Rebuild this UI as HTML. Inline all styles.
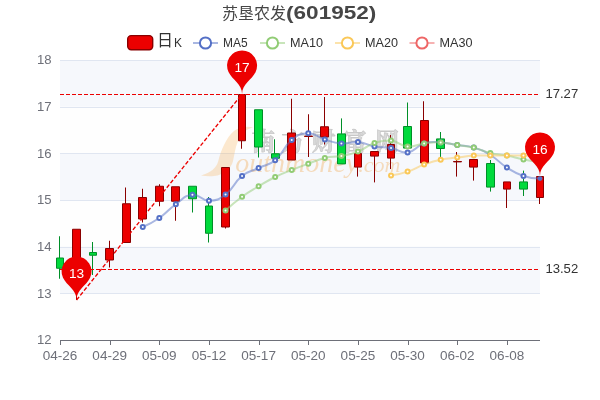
<!DOCTYPE html>
<html lang="zh"><head><meta charset="utf-8"><title>苏垦农发(601952)</title>
<style>
html,body{margin:0;padding:0;background:#fff;}
body{width:600px;height:400px;overflow:hidden;font-family:"Liberation Sans",sans-serif;}
svg{display:block;font-family:"Liberation Sans",sans-serif;will-change:transform;}
.ax{font-size:12.2px;fill:#6e7079;}
.ml{font-size:12.2px;fill:#333;}
.lg{font-size:12.2px;fill:#333;}
.pl{font-size:12.2px;fill:#fff;}
.tt{font-size:18.4px;font-weight:bold;fill:#464646;}
</style></head><body>
<svg width="600" height="400" viewBox="0 0 600 400">
<rect width="600" height="400" fill="#fff"/>

<rect x="60" y="60.00" width="480" height="46.67" fill="rgba(210,219,238,0.2)"/>
<rect x="60" y="106.67" width="480" height="46.67" fill="rgba(250,250,250,0.2)"/>
<rect x="60" y="153.33" width="480" height="46.67" fill="rgba(210,219,238,0.2)"/>
<rect x="60" y="200.00" width="480" height="46.67" fill="rgba(250,250,250,0.2)"/>
<rect x="60" y="246.67" width="480" height="46.67" fill="rgba(210,219,238,0.2)"/>
<rect x="60" y="293.33" width="480" height="46.67" fill="rgba(250,250,250,0.2)"/>
<line x1="60" x2="540" y1="60.5" y2="60.5" stroke="#e0e6f1" stroke-width="1"/>
<line x1="60" x2="540" y1="107.5" y2="107.5" stroke="#e0e6f1" stroke-width="1"/>
<line x1="60" x2="540" y1="153.5" y2="153.5" stroke="#e0e6f1" stroke-width="1"/>
<line x1="60" x2="540" y1="200.5" y2="200.5" stroke="#e0e6f1" stroke-width="1"/>
<line x1="60" x2="540" y1="247.5" y2="247.5" stroke="#e0e6f1" stroke-width="1"/>
<line x1="60" x2="540" y1="293.5" y2="293.5" stroke="#e0e6f1" stroke-width="1"/>
<g id="wm">
<path d="M201 175.5 C211 172.5 216 168 218 162 C221 150 226 138 234 131 C240 127 247 126 253 127.5 C246 129 241 134 238 141 C235 148 234.5 155 233 161 C231 169 224 175 214 176 C210 176.5 205 176.3 201 175.5 Z" fill="#f6a437" opacity="0.24"/>
<text x="251.6 281.4 311.8 343 375.5" y="149.7" font-family="'Liberation Serif','Noto Serif CJK SC',serif" font-size="23.5" font-weight="bold" fill="#9c9c9c" stroke="#6c6c6c" stroke-width="0.8" stroke-linejoin="round" opacity="0.36">南方财富网</text>
<text x="235.3" y="171.5" font-family="Liberation Serif, serif" font-style="italic" font-size="28" fill="#f2a03c" opacity="0.33">outhmoney<tspan font-size="22">.com</tspan></text>
</g>
<line x1="60" x2="540" y1="340.5" y2="340.5" stroke="#6e7079" stroke-width="1"/>
<line x1="60.5" x2="60.5" y1="340" y2="345" stroke="#6e7079" stroke-width="1"/>
<text class="ax" x="60.00" y="360" text-anchor="middle" textLength="34.6" lengthAdjust="spacingAndGlyphs">04-26</text>
<line x1="110.5" x2="110.5" y1="340" y2="345" stroke="#6e7079" stroke-width="1"/>
<text class="ax" x="109.66" y="360" text-anchor="middle" textLength="34.6" lengthAdjust="spacingAndGlyphs">04-29</text>
<line x1="159.5" x2="159.5" y1="340" y2="345" stroke="#6e7079" stroke-width="1"/>
<text class="ax" x="159.31" y="360" text-anchor="middle" textLength="34.6" lengthAdjust="spacingAndGlyphs">05-09</text>
<line x1="209.5" x2="209.5" y1="340" y2="345" stroke="#6e7079" stroke-width="1"/>
<text class="ax" x="208.97" y="360" text-anchor="middle" textLength="34.6" lengthAdjust="spacingAndGlyphs">05-12</text>
<line x1="259.5" x2="259.5" y1="340" y2="345" stroke="#6e7079" stroke-width="1"/>
<text class="ax" x="258.62" y="360" text-anchor="middle" textLength="34.6" lengthAdjust="spacingAndGlyphs">05-17</text>
<line x1="308.5" x2="308.5" y1="340" y2="345" stroke="#6e7079" stroke-width="1"/>
<text class="ax" x="308.28" y="360" text-anchor="middle" textLength="34.6" lengthAdjust="spacingAndGlyphs">05-20</text>
<line x1="358.5" x2="358.5" y1="340" y2="345" stroke="#6e7079" stroke-width="1"/>
<text class="ax" x="357.93" y="360" text-anchor="middle" textLength="34.6" lengthAdjust="spacingAndGlyphs">05-25</text>
<line x1="408.5" x2="408.5" y1="340" y2="345" stroke="#6e7079" stroke-width="1"/>
<text class="ax" x="407.59" y="360" text-anchor="middle" textLength="34.6" lengthAdjust="spacingAndGlyphs">05-30</text>
<line x1="457.5" x2="457.5" y1="340" y2="345" stroke="#6e7079" stroke-width="1"/>
<text class="ax" x="457.24" y="360" text-anchor="middle" textLength="34.6" lengthAdjust="spacingAndGlyphs">06-02</text>
<line x1="507.5" x2="507.5" y1="340" y2="345" stroke="#6e7079" stroke-width="1"/>
<text class="ax" x="506.90" y="360" text-anchor="middle" textLength="34.6" lengthAdjust="spacingAndGlyphs">06-08</text>
<text class="ax" x="51.6" y="64.30" text-anchor="end" textLength="14.6" lengthAdjust="spacingAndGlyphs">18</text>
<text class="ax" x="51.6" y="110.97" text-anchor="end" textLength="14.6" lengthAdjust="spacingAndGlyphs">17</text>
<text class="ax" x="51.6" y="157.63" text-anchor="end" textLength="14.6" lengthAdjust="spacingAndGlyphs">16</text>
<text class="ax" x="51.6" y="204.30" text-anchor="end" textLength="14.6" lengthAdjust="spacingAndGlyphs">15</text>
<text class="ax" x="51.6" y="250.97" text-anchor="end" textLength="14.6" lengthAdjust="spacingAndGlyphs">14</text>
<text class="ax" x="51.6" y="297.63" text-anchor="end" textLength="14.6" lengthAdjust="spacingAndGlyphs">13</text>
<text class="ax" x="51.6" y="344.30" text-anchor="end" textLength="14.6" lengthAdjust="spacingAndGlyphs">12</text>
<path d="M56.5 258.00H63.5V268.25H56.5ZM59.5 258.00V236.25M59.5 268.25V278.75" fill="#00da3c" stroke="#008f28" stroke-width="1"/>
<path d="M72.5 229.25H80.5V278.50H72.5ZM76.5 278.50V300.00" fill="#ec0000" stroke="#8a0000" stroke-width="1"/>
<path d="M89.5 252.50H96.5V255.25H89.5ZM92.5 252.50V242.00M92.5 255.25V275.00" fill="#00da3c" stroke="#008f28" stroke-width="1"/>
<path d="M105.5 248.50H113.5V260.00H105.5ZM109.5 248.50V240.75M109.5 260.00V267.50" fill="#ec0000" stroke="#8a0000" stroke-width="1"/>
<path d="M122.5 203.75H130.5V242.50H122.5ZM125.5 203.75V187.50" fill="#ec0000" stroke="#8a0000" stroke-width="1"/>
<path d="M138.5 197.50H146.5V219.00H138.5ZM142.5 197.50V188.75M142.5 219.00V222.50" fill="#ec0000" stroke="#8a0000" stroke-width="1"/>
<path d="M155.5 186.25H163.5V201.25H155.5ZM159.5 186.25V184.25M159.5 201.25V206.25" fill="#ec0000" stroke="#8a0000" stroke-width="1"/>
<path d="M171.5 186.75H179.5V201.25H171.5ZM175.5 201.25V220.75" fill="#ec0000" stroke="#8a0000" stroke-width="1"/>
<path d="M188.5 186.25H196.5V198.75H188.5ZM192.5 198.75V212.50" fill="#00da3c" stroke="#008f28" stroke-width="1"/>
<path d="M205.5 206.00H212.5V233.25H205.5ZM208.5 206.00V197.00M208.5 233.25V242.50" fill="#00da3c" stroke="#008f28" stroke-width="1"/>
<path d="M221.5 167.50H229.5V227.00H221.5ZM225.5 227.00V228.50" fill="#ec0000" stroke="#8a0000" stroke-width="1"/>
<path d="M238.5 94.57H245.5V140.75H238.5ZM241.5 140.75V148.75" fill="#ec0000" stroke="#8a0000" stroke-width="1"/>
<path d="M254.5 109.75H262.5V147.00H254.5ZM258.5 147.00V157.50" fill="#00da3c" stroke="#008f28" stroke-width="1"/>
<path d="M271.5 153.75H279.5V158.25H271.5ZM274.5 153.75V139.25" fill="#00da3c" stroke="#008f28" stroke-width="1"/>
<path d="M287.5 133.00H295.5V160.00H287.5ZM291.5 133.00V98.75" fill="#ec0000" stroke="#8a0000" stroke-width="1"/>
<path d="M304.5 136.00H312.5V136.50H304.5ZM308.5 136.00V114.25M308.5 136.50V157.00" fill="#ec0000" stroke="#8a0000" stroke-width="1"/>
<path d="M320.5 126.75H328.5V137.00H320.5ZM324.5 126.75V97.00M324.5 137.00V144.50" fill="#ec0000" stroke="#8a0000" stroke-width="1"/>
<path d="M337.5 133.90H345.5V163.90H337.5ZM341.5 133.90V118.40" fill="#00da3c" stroke="#008f28" stroke-width="1"/>
<path d="M354.5 153.50H361.5V167.10H354.5ZM357.5 167.10V176.60" fill="#ec0000" stroke="#8a0000" stroke-width="1"/>
<path d="M370.5 151.50H378.5V156.10H370.5ZM374.5 156.10V182.40" fill="#ec0000" stroke="#8a0000" stroke-width="1"/>
<path d="M387.5 144.50H394.5V158.10H387.5ZM390.5 144.50V135.00M390.5 158.10V169.00" fill="#ec0000" stroke="#8a0000" stroke-width="1"/>
<path d="M403.5 126.50H411.5V148.10H403.5ZM407.5 126.50V102.50" fill="#00da3c" stroke="#008f28" stroke-width="1"/>
<path d="M420.5 120.50H428.5V162.90H420.5ZM423.5 120.50V101.25" fill="#ec0000" stroke="#8a0000" stroke-width="1"/>
<path d="M436.5 138.90H444.5V148.50H436.5ZM440.5 138.90V132.00M440.5 148.50V157.00" fill="#00da3c" stroke="#008f28" stroke-width="1"/>
<path d="M453.5 161.50H461.5V161.90H453.5ZM456.5 161.50V152.00M456.5 161.90V176.60" fill="#ec0000" stroke="#8a0000" stroke-width="1"/>
<path d="M469.5 159.50H477.5V167.10H469.5ZM473.5 167.10V180.60" fill="#ec0000" stroke="#8a0000" stroke-width="1"/>
<path d="M486.5 163.50H494.5V187.10H486.5ZM490.5 163.50V160.00M490.5 187.10V191.60" fill="#00da3c" stroke="#008f28" stroke-width="1"/>
<path d="M503.5 181.90H510.5V189.10H503.5ZM506.5 189.10V208.00" fill="#ec0000" stroke="#8a0000" stroke-width="1"/>
<path d="M519.5 181.90H527.5V189.10H519.5ZM523.5 181.90V170.60M523.5 189.10V196.00" fill="#00da3c" stroke="#008f28" stroke-width="1"/>
<path d="M536.5 176.50H543.5V197.50H536.5ZM539.5 197.50V204.00" fill="#ec0000" stroke="#8a0000" stroke-width="1"/>
<defs><clipPath id="gc"><rect x="59" y="59" width="486" height="282"/></clipPath></defs>
<g clip-path="url(#gc)"><path d="M142.76 227.00 C142.76 227.00 151.58 223.31 159.31 218.00 C168.14 211.94 167.09 210.41 175.86 204.25 C183.64 198.79 183.80 195.66 192.41 194.75 C200.36 193.91 200.71 200.81 208.97 200.75 C217.26 200.69 218.63 199.65 225.52 194.50 C235.18 187.27 232.56 183.61 242.07 176.00 C249.11 170.36 250.32 171.95 258.62 168.00 C266.87 164.07 268.36 166.01 275.17 160.25 C284.92 152.01 281.89 148.02 291.72 140.00 C298.44 134.52 299.96 133.38 308.28 133.25 C316.51 133.25 316.39 136.91 324.83 139.50 C332.94 141.99 333.01 142.77 341.38 143.40 C349.56 144.02 349.78 141.26 357.93 142.00 C366.33 142.76 366.08 144.88 374.48 146.40 C382.64 147.88 382.88 146.52 391.03 148.00 C399.43 149.52 399.70 153.50 407.59 152.40 C416.26 151.20 415.33 146.06 424.14 143.40 C431.89 141.06 432.46 142.00 440.69 142.40 C449.01 142.80 448.97 143.70 457.24 145.00 C465.52 146.30 465.84 145.20 473.79 147.60 C482.40 150.20 482.64 150.34 490.34 155.00 C499.19 160.34 498.15 162.05 506.90 167.60 C514.70 172.55 514.75 173.11 523.45 176.00 C531.30 178.61 540.00 178.60 540.00 178.60" fill="none" stroke="#5470c6" stroke-width="2" stroke-opacity="0.5" stroke-linejoin="round"/>
<circle cx="142.76" cy="227.00" r="2" fill="#fff" stroke="#5470c6" stroke-width="2"/>
<circle cx="159.31" cy="218.00" r="2" fill="#fff" stroke="#5470c6" stroke-width="2"/>
<circle cx="175.86" cy="204.25" r="2" fill="#fff" stroke="#5470c6" stroke-width="2"/>
<circle cx="192.41" cy="194.75" r="2" fill="#fff" stroke="#5470c6" stroke-width="2"/>
<circle cx="208.97" cy="200.75" r="2" fill="#fff" stroke="#5470c6" stroke-width="2"/>
<circle cx="225.52" cy="194.50" r="2" fill="#fff" stroke="#5470c6" stroke-width="2"/>
<circle cx="242.07" cy="176.00" r="2" fill="#fff" stroke="#5470c6" stroke-width="2"/>
<circle cx="258.62" cy="168.00" r="2" fill="#fff" stroke="#5470c6" stroke-width="2"/>
<circle cx="275.17" cy="160.25" r="2" fill="#fff" stroke="#5470c6" stroke-width="2"/>
<circle cx="291.72" cy="140.00" r="2" fill="#fff" stroke="#5470c6" stroke-width="2"/>
<circle cx="308.28" cy="133.25" r="2" fill="#fff" stroke="#5470c6" stroke-width="2"/>
<circle cx="324.83" cy="139.50" r="2" fill="#fff" stroke="#5470c6" stroke-width="2"/>
<circle cx="341.38" cy="143.40" r="2" fill="#fff" stroke="#5470c6" stroke-width="2"/>
<circle cx="357.93" cy="142.00" r="2" fill="#fff" stroke="#5470c6" stroke-width="2"/>
<circle cx="374.48" cy="146.40" r="2" fill="#fff" stroke="#5470c6" stroke-width="2"/>
<circle cx="391.03" cy="148.00" r="2" fill="#fff" stroke="#5470c6" stroke-width="2"/>
<circle cx="407.59" cy="152.40" r="2" fill="#fff" stroke="#5470c6" stroke-width="2"/>
<circle cx="424.14" cy="143.40" r="2" fill="#fff" stroke="#5470c6" stroke-width="2"/>
<circle cx="440.69" cy="142.40" r="2" fill="#fff" stroke="#5470c6" stroke-width="2"/>
<circle cx="457.24" cy="145.00" r="2" fill="#fff" stroke="#5470c6" stroke-width="2"/>
<circle cx="473.79" cy="147.60" r="2" fill="#fff" stroke="#5470c6" stroke-width="2"/>
<circle cx="490.34" cy="155.00" r="2" fill="#fff" stroke="#5470c6" stroke-width="2"/>
<circle cx="506.90" cy="167.60" r="2" fill="#fff" stroke="#5470c6" stroke-width="2"/>
<circle cx="523.45" cy="176.00" r="2" fill="#fff" stroke="#5470c6" stroke-width="2"/>
<circle cx="540.00" cy="178.60" r="2.4" fill="#5470c6"/>
</g>
<g clip-path="url(#gc)"><path d="M225.52 210.50 C225.52 210.50 233.41 203.10 242.07 196.75 C249.96 190.97 250.21 191.27 258.62 186.25 C266.76 181.39 266.67 181.17 275.17 177.00 C283.23 173.05 283.38 173.34 291.72 170.00 C299.94 166.71 299.96 166.76 308.28 163.75 C316.51 160.76 316.35 159.99 324.83 158.00 C332.90 156.11 333.21 157.58 341.38 156.00 C349.77 154.38 350.01 154.71 357.93 151.60 C366.56 148.21 365.76 145.90 374.48 143.00 C382.31 140.60 382.96 140.60 391.03 140.60 C399.51 141.47 399.14 145.69 407.59 146.40 C415.69 147.09 415.80 144.41 424.14 143.40 C432.35 142.41 432.46 142.00 440.69 142.40 C449.01 142.80 448.97 143.70 457.24 145.00 C465.52 146.30 465.68 145.64 473.79 147.60 C482.23 149.64 481.91 150.96 490.34 153.00 C498.46 154.96 498.68 154.01 506.90 155.60 C515.23 157.21 515.12 157.79 523.45 159.40 C531.67 160.99 540.00 162.00 540.00 162.00" fill="none" stroke="#91cc75" stroke-width="2" stroke-opacity="0.5" stroke-linejoin="round"/>
<circle cx="225.52" cy="210.50" r="2" fill="#fff" stroke="#91cc75" stroke-width="2"/>
<circle cx="242.07" cy="196.75" r="2" fill="#fff" stroke="#91cc75" stroke-width="2"/>
<circle cx="258.62" cy="186.25" r="2" fill="#fff" stroke="#91cc75" stroke-width="2"/>
<circle cx="275.17" cy="177.00" r="2" fill="#fff" stroke="#91cc75" stroke-width="2"/>
<circle cx="291.72" cy="170.00" r="2" fill="#fff" stroke="#91cc75" stroke-width="2"/>
<circle cx="308.28" cy="163.75" r="2" fill="#fff" stroke="#91cc75" stroke-width="2"/>
<circle cx="324.83" cy="158.00" r="2" fill="#fff" stroke="#91cc75" stroke-width="2"/>
<circle cx="341.38" cy="156.00" r="2" fill="#fff" stroke="#91cc75" stroke-width="2"/>
<circle cx="357.93" cy="151.60" r="2" fill="#fff" stroke="#91cc75" stroke-width="2"/>
<circle cx="374.48" cy="143.00" r="2" fill="#fff" stroke="#91cc75" stroke-width="2"/>
<circle cx="391.03" cy="140.60" r="2" fill="#fff" stroke="#91cc75" stroke-width="2"/>
<circle cx="407.59" cy="146.40" r="2" fill="#fff" stroke="#91cc75" stroke-width="2"/>
<circle cx="424.14" cy="143.40" r="2" fill="#fff" stroke="#91cc75" stroke-width="2"/>
<circle cx="440.69" cy="142.40" r="2" fill="#fff" stroke="#91cc75" stroke-width="2"/>
<circle cx="457.24" cy="145.00" r="2" fill="#fff" stroke="#91cc75" stroke-width="2"/>
<circle cx="473.79" cy="147.60" r="2" fill="#fff" stroke="#91cc75" stroke-width="2"/>
<circle cx="490.34" cy="153.00" r="2" fill="#fff" stroke="#91cc75" stroke-width="2"/>
<circle cx="506.90" cy="155.60" r="2" fill="#fff" stroke="#91cc75" stroke-width="2"/>
<circle cx="523.45" cy="159.40" r="2" fill="#fff" stroke="#91cc75" stroke-width="2"/>
<circle cx="540.00" cy="162.00" r="2" fill="#fff" stroke="#91cc75" stroke-width="2"/>
</g>
<g clip-path="url(#gc)"><path d="M391.03 175.60 C391.03 175.60 399.53 174.28 407.59 171.60 C416.09 168.78 415.69 167.61 424.14 164.60 C432.24 161.71 432.28 161.58 440.69 159.80 C448.83 158.08 448.96 158.65 457.24 157.60 C465.51 156.55 465.49 156.10 473.79 155.60 C482.04 155.40 482.07 155.60 490.34 155.60 C498.62 155.60 498.62 155.65 506.90 155.60 C515.17 155.55 515.19 155.40 523.45 155.40 C531.74 155.75 540.00 157.00 540.00 157.00" fill="none" stroke="#fac858" stroke-width="2" stroke-opacity="0.5" stroke-linejoin="round"/>
<circle cx="391.03" cy="175.60" r="2" fill="#fff" stroke="#fac858" stroke-width="2"/>
<circle cx="407.59" cy="171.60" r="2" fill="#fff" stroke="#fac858" stroke-width="2"/>
<circle cx="424.14" cy="164.60" r="2" fill="#fff" stroke="#fac858" stroke-width="2"/>
<circle cx="440.69" cy="159.80" r="2" fill="#fff" stroke="#fac858" stroke-width="2"/>
<circle cx="457.24" cy="157.60" r="2" fill="#fff" stroke="#fac858" stroke-width="2"/>
<circle cx="473.79" cy="155.60" r="2" fill="#fff" stroke="#fac858" stroke-width="2"/>
<circle cx="490.34" cy="155.60" r="2" fill="#fff" stroke="#fac858" stroke-width="2"/>
<circle cx="506.90" cy="155.60" r="2" fill="#fff" stroke="#fac858" stroke-width="2"/>
<circle cx="523.45" cy="155.40" r="2" fill="#fff" stroke="#fac858" stroke-width="2"/>
<circle cx="540.00" cy="157.00" r="2" fill="#fff" stroke="#fac858" stroke-width="2"/>
</g>
<line x1="60" x2="540" y1="94.5" y2="94.5" stroke="#ec0000" stroke-width="1" stroke-dasharray="4 2"/>
<text class="ml" x="545.4" y="98.37" textLength="32.8" lengthAdjust="spacingAndGlyphs">17.27</text>
<line x1="60" x2="540" y1="269.5" y2="269.5" stroke="#ec0000" stroke-width="1" stroke-dasharray="4 2"/>
<text class="ml" x="545.4" y="273.37" textLength="32.8" lengthAdjust="spacingAndGlyphs">13.52</text>
<line x1="76.55" y1="300.00" x2="242.07" y2="94.07" stroke="#ec0000" stroke-width="1.35" stroke-dasharray="4 2"/>
<path d="M63.00 277.86 A15 15 0 1 1 90.10 277.86 C86.25 285.99 76.55 289.50 76.55 300.00 C76.55 289.50 66.86 285.99 63.00 277.86 Z" fill="#ec0000"/><text x="76.55" y="278.16" class="pl" text-anchor="middle" textLength="15.2" lengthAdjust="spacingAndGlyphs">13</text>
<path d="M228.52 71.92 A15 15 0 1 1 255.62 71.92 C251.76 80.06 242.07 83.57 242.07 94.07 C242.07 83.57 232.37 80.06 228.52 71.92 Z" fill="#ec0000"/><text x="242.07" y="72.22" class="pl" text-anchor="middle" textLength="15.2" lengthAdjust="spacingAndGlyphs">17</text>
<path d="M526.45 153.86 A15 15 0 1 1 553.55 153.86 C549.70 161.99 540.00 165.50 540.00 176.00 C540.00 165.50 530.30 161.99 526.45 153.86 Z" fill="#ec0000"/><text x="540.00" y="154.16" class="pl" text-anchor="middle" textLength="15.2" lengthAdjust="spacingAndGlyphs">16</text>
<rect x="127.7" y="35.6" width="25" height="14.1" rx="3.5" ry="3.5" fill="#ec0000" stroke="#8a0000" stroke-width="1.4"/>
<text x="157" y="46" font-family="'Liberation Sans','Noto Sans CJK SC',sans-serif" font-size="16" fill="#333">日</text>
<text class="lg" x="174.0" y="47.3" textLength="8" lengthAdjust="spacingAndGlyphs">K</text>
<line x1="193.0" x2="218.0" y1="43" y2="43" stroke="#5470c6" stroke-width="2" stroke-opacity="0.5"/>
<circle cx="205.50" cy="43" r="5.6" fill="#fff" stroke="#5470c6" stroke-width="2"/>
<text class="lg" x="223.0" y="47.3" textLength="24.6" lengthAdjust="spacingAndGlyphs">MA5</text>
<line x1="260.0" x2="285.0" y1="43" y2="43" stroke="#91cc75" stroke-width="2" stroke-opacity="0.5"/>
<circle cx="272.50" cy="43" r="5.6" fill="#fff" stroke="#91cc75" stroke-width="2"/>
<text class="lg" x="290.0" y="47.3" textLength="33.0" lengthAdjust="spacingAndGlyphs">MA10</text>
<line x1="335.0" x2="360.0" y1="43" y2="43" stroke="#fac858" stroke-width="2" stroke-opacity="0.5"/>
<circle cx="347.50" cy="43" r="5.6" fill="#fff" stroke="#fac858" stroke-width="2"/>
<text class="lg" x="365.0" y="47.3" textLength="33.0" lengthAdjust="spacingAndGlyphs">MA20</text>
<line x1="409.5" x2="434.5" y1="43" y2="43" stroke="#ee6666" stroke-width="2" stroke-opacity="0.5"/>
<circle cx="422.00" cy="43" r="5.6" fill="#fff" stroke="#ee6666" stroke-width="2"/>
<text class="lg" x="439.5" y="47.3" textLength="33.0" lengthAdjust="spacingAndGlyphs">MA30</text>
<text x="222" y="19" font-family="'Liberation Sans','Noto Sans CJK SC',sans-serif" font-size="16" fill="#464646" textLength="64" lengthAdjust="spacingAndGlyphs">苏垦农发</text>
<text class="tt" x="286" y="18.8" textLength="90.4" lengthAdjust="spacingAndGlyphs">(601952)</text>
</svg></body></html>
